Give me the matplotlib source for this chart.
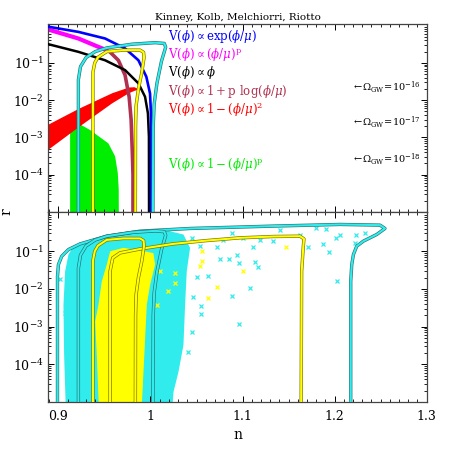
import matplotlib
matplotlib.use("Agg")
import matplotlib.pyplot as plt
import matplotlib.patheffects as pe
from matplotlib.ticker import LogLocator, MultipleLocator, NullFormatter

plt.rcParams["font.family"] = ["DejaVu Serif"]
plt.rcParams["mathtext.fontset"] = "dejavuserif"

# ---- top panel: model predictions (n, r) ----
blue_n = [0.889, 0.9217, 0.9507, 0.9724, 0.9869, 0.9955, 0.9995, 1.0005, 1.0005]
blue_r = [0.93, 0.675, 0.449, 0.243, 0.117, 0.0423, 0.0151, 0.0045, 1e-6]

magenta_n = [0.889, 0.9217, 0.9434, 0.952]
magenta_r = [0.78, 0.449, 0.268, 0.22]

black_n = [0.889, 0.9217, 0.9507, 0.9724, 0.9869, 0.9941, 0.9972, 0.9983, 0.9985]
black_r = [0.316, 0.197, 0.117, 0.0638, 0.0282, 0.0123, 0.00447, 0.00105, 1e-6]

brown_n = [0.956, 0.9651, 0.9724, 0.9768, 0.979, 0.9803, 0.981, 0.981]
brown_r = [0.195, 0.117, 0.0468, 0.0123, 0.00295, 3.8e-4, 1e-4, 1e-6]

red_n = [0.880, 0.889, 0.9217, 0.958, 0.976, 0.982, 0.987]
red_top = [0.0017, 0.00229, 0.00603, 0.0158, 0.0224, 0.0229, 0.020]
red_bot = [0.00030, 0.00049, 0.00195, 0.0085, 0.0158, 0.0182, 0.020]

green_n = [0.9127, 0.9127, 0.9344, 0.9543, 0.9616, 0.9645, 0.9655, 0.9658]
green_r = [1e-6, 0.00316, 0.00158, 0.00069, 0.00031, 0.00011, 4e-5, 1e-6]

# ---- likelihood contours ----
cyan_in_n = [0.9217, 0.9217, 0.9240, 0.9300, 0.9400, 0.9525, 0.9800, 1.0050, 1.0150,
             1.0165, 1.0120, 1.0070, 1.0040, 1.0030, 1.0025]
cyan_in_r = [1e-6, 0.0355, 0.0794, 0.138, 0.200, 0.251, 0.316, 0.347, 0.331,
             0.263, 0.112, 0.0282, 0.0079, 0.0020, 1e-6]

yel_in_n = [0.9375, 0.9375, 0.9395, 0.9430, 0.9525, 0.9706, 0.9887, 0.9925, 0.9930,
            0.9905, 0.9869, 0.9844, 0.9838, 0.9835]
yel_in_r = [1e-6, 0.0562, 0.100, 0.141, 0.200, 0.219, 0.219, 0.191, 0.138,
            0.0537, 0.020, 0.0071, 0.0020, 1e-6]

cyan_out_n = [0.899, 0.899, 0.900, 0.9036, 0.9109, 0.9236, 0.9525, 0.9887, 1.043, 1.1334,
              1.2058, 1.2493, 1.2547, 1.2457, 1.2312, 1.224, 1.2204, 1.2186, 1.2175, 1.2175]
cyan_out_r = [1e-6, 0.0215, 0.0441, 0.0736, 0.111, 0.157, 0.251, 0.341, 0.402, 0.465,
              0.514, 0.493, 0.402, 0.278, 0.185, 0.136, 0.0815, 0.0441, 0.0158, 1e-6]

yel_out_n = [0.9561, 0.9561, 0.959, 0.9669, 0.9887, 1.0249, 1.0611, 1.0973, 1.1335,
             1.1624, 1.1667, 1.166, 1.1642, 1.1635]
yel_out_r = [1e-6, 0.0293, 0.0664, 0.0904, 0.115, 0.157, 0.192, 0.227, 0.246,
             0.251, 0.213, 0.136, 0.0293, 1e-6]

# ---- dense Monte Carlo clouds (outlines) ----
cyan_cloud_n = [0.9091, 0.9062, 0.9055, 0.9073, 0.9109, 0.9163, 0.9344, 0.9525, 0.9887,
                1.0177, 1.0358, 1.043, 1.0394, 1.0376, 1.0358, 1.0304, 1.025, 1.0214]
cyan_cloud_r = [1e-6, 1.76e-4, 3.8e-3, 0.0293, 0.0815, 0.136, 0.205, 0.251, 0.328,
                0.356, 0.278, 0.123, 0.0293, 0.0038, 3.24e-4, 6.3e-5, 1.85e-5, 1e-6]

yel_cloud_n = [0.9453, 0.9417, 0.9399, 0.9435, 0.9471, 0.9525, 0.9562, 0.9706, 0.9887,
               1.0032, 1.005, 0.9996, 0.996, 0.9942, 0.9924, 0.9887]
yel_cloud_r = [1e-6, 1.76e-4, 1.36e-3, 3.8e-3, 0.0158, 0.044, 0.1, 0.123, 0.105,
               0.0891, 0.044, 0.0129, 0.0038, 4.9e-4, 6.3e-5, 1e-6]

# scattered models outside the dense clouds
cyan_pts_n = [1.088, 1.101, 1.1117, 1.119, 1.1335, 1.1406, 1.162, 1.171, 1.1798, 1.1907,
              1.187, 1.1943, 1.2015, 1.2058, 1.2232, 1.233, 1.222, 1.2022, 1.0966, 1.0854,
              1.072, 1.0785, 1.0883, 1.1082, 1.1173, 1.1137, 1.0966, 1.055, 1.055, 1.063,
              1.0757, 1.054, 1.0456, 1.0937, 1.0448, 1.0466, 1.0502, 1.0412, 0.9073, 0.9019]
cyan_pts_r = [0.309, 0.228, 0.128, 0.193, 0.185, 0.356, 0.278, 0.131, 0.402, 0.378,
              0.157, 0.094, 0.228, 0.267, 0.278, 0.309, 0.167, 0.0165, 0.0489, 0.0638,
              0.128, 0.193, 0.0063, 0.0105, 0.0382, 0.052, 0.00115, 0.00363, 0.00219, 0.0215,
              0.0625, 0.136, 0.228, 0.0782, 7.4e-4, 0.006, 0.0205, 2.16e-4, 0.00223, 0.0189]

yel_pts_n = [1.0557, 1.054, 1.0268, 1.072, 1.063, 1.101, 1.1472, 1.0105, 1.0195, 1.0268,
             1.0068, 1.0557]
yel_pts_r = [0.1, 0.0415, 0.0264, 0.011, 0.00569, 0.0305, 0.131, 0.0293, 0.00857, 0.0143,
             0.0038, 0.0564]

labels = [r"$\mathrm{V}(\phi)\propto\exp(\phi/\mu)$",
          r"$\mathrm{V}(\phi)\propto(\phi/\mu)^{\mathrm{p}}$",
          r"$\mathrm{V}(\phi)\propto\phi$",
          r"$\mathrm{V}(\phi)\propto1+\mathrm{p}\ \log(\phi/\mu)$",
          r"$\mathrm{V}(\phi)\propto1-(\phi/\mu)^{2}$",
          r"$\mathrm{V}(\phi)\propto1-(\phi/\mu)^{\mathrm{p}}$"]
label_colors = ["#0000ff", "#ff00ff", "black", "#b03050", "#ff0000", "#00ee00"]
omega_labels = [r"$\leftarrow\!\Omega_{\mathrm{GW}}\!=\!10^{-16}$",
                r"$\leftarrow\!\Omega_{\mathrm{GW}}\!=\!10^{-17}$",
                r"$\leftarrow\!\Omega_{\mathrm{GW}}\!=\!10^{-18}$"]

CYAN = "#30ecec"
YEL = "#ffff00"


def contour(ax, n, r, color, edge):
    ax.plot(n, r, color=color, lw=1.5, zorder=5,
            path_effects=[pe.Stroke(linewidth=2.4, foreground=edge), pe.Normal()])


def style(ax):
    ax.set_xlim(0.889, 1.3)
    ax.set_yscale("log")
    ax.set_ylim(1e-5, 1.1)
    ax.xaxis.set_major_locator(MultipleLocator(0.1))
    ax.xaxis.set_minor_locator(MultipleLocator(0.01))
    ax.set_yticks([1e-4, 1e-3, 1e-2, 1e-1])
    ax.yaxis.set_minor_locator(LogLocator(base=10, subs=range(2, 10)))
    ax.yaxis.set_minor_formatter(NullFormatter())
    ax.tick_params(which="both", direction="in", top=True, right=True, labelsize=9)
    ax.tick_params(which="major", length=4.5, width=0.7)
    ax.tick_params(which="minor", length=2.2, width=0.6)
    for s in ax.spines.values():
        s.set_color("#444444")
        s.set_linewidth(0.9)


fig = plt.figure(figsize=(4.5, 4.5), dpi=100)
ax1 = fig.add_axes([0.1073, 0.5289, 0.8409, 0.4178])
ax2 = fig.add_axes([0.1073, 0.1067, 0.8409, 0.4222])

# top panel
ax1.fill(green_n, green_r, color="#00ee00", lw=0, zorder=1)
ax1.fill_between(red_n, red_bot, red_top, color="#ff0000", lw=0, zorder=2)
ax1.plot(magenta_n, magenta_r, color="#ff00ff", lw=3.0, zorder=2)
ax1.plot(brown_n, brown_r, color="#b03050", lw=2.6, zorder=2)
ax1.plot(black_n, black_r, color="black", lw=1.8, zorder=3)
ax1.plot(blue_n, blue_r, color="#0000ff", lw=1.9, zorder=3)
contour(ax1, cyan_in_n, cyan_in_r, CYAN, "#2a6e6e")
contour(ax1, yel_in_n, yel_in_r, YEL, "#7a6e00")

for i, txt in enumerate(labels):
    ypos = [0.936, 0.840, 0.741, 0.640, 0.543, 0.25][i]
    ax1.text(0.317, ypos, txt, color=label_colors[i], transform=ax1.transAxes,
             fontsize=8.5, va="center", ha="left")
for txt, ypos in zip(omega_labels, [0.658, 0.472, 0.277]):
    ax1.text(0.802, ypos, txt, color="black", transform=ax1.transAxes,
             fontsize=7, va="center", ha="left")

style(ax1)
ax1.set_xticklabels([])
ax1.set_title("Kinney, Kolb, Melchiorri, Riotto", fontsize=7.5, pad=3)

# bottom panel
ax2.fill(cyan_cloud_n, cyan_cloud_r, color=CYAN, lw=0, zorder=1)
ax2.plot(cyan_pts_n, cyan_pts_r, ls="none", marker="x", ms=3, mew=0.9, color=CYAN, zorder=1)
ax2.fill(yel_cloud_n, yel_cloud_r, color=YEL, lw=0, zorder=2)
ax2.plot(yel_pts_n, yel_pts_r, ls="none", marker="x", ms=3, mew=0.9, color=YEL, zorder=2)
contour(ax2, cyan_out_n, cyan_out_r, CYAN, "#2a6e6e")
contour(ax2, cyan_in_n, cyan_in_r, CYAN, "#2a6e6e")
contour(ax2, yel_out_n, yel_out_r, YEL, "#7a6e00")
contour(ax2, yel_in_n, yel_in_r, YEL, "#7a6e00")

style(ax2)
ax2.set_xticks([0.9, 1.0, 1.1, 1.2, 1.3])
ax2.set_xticklabels(["0.9", "1", "1.1", "1.2", "1.3"])
ax2.tick_params(axis="x", pad=6)

fig.text(0.528, 0.033, "n", fontsize=10, ha="center", va="center")
fig.text(0.014, 0.529, "r", fontsize=10, ha="center", va="center", rotation=90)

fig.savefig("out.png", dpi=100)
